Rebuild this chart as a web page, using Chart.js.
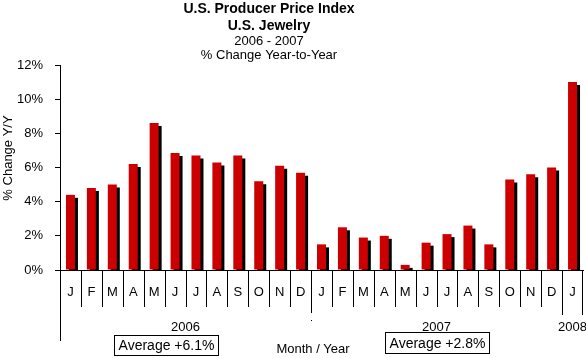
<!DOCTYPE html>
<html>
<head>
<meta charset="utf-8">
<script src="https://cdn.jsdelivr.net/npm/chart.js@4"></script>
<style>
  html, body { margin: 0; padding: 0; background: #fff; }
  #wrap { width: 586px; height: 358px; }
</style>
</head>
<body>
<div id="wrap"><canvas id="chart" width="586" height="358"></canvas></div>
<script>
// data
const months = ["J","F","M","A","M","J","J","A","S","O","N","D",
                "J","F","M","A","M","J","J","A","S","O","N","D",
                "J"];
const pct2006 = [4.4, 4.8, 5.0, 6.2, 8.6, 6.85, 6.7, 6.3, 6.7, 5.2, 6.1, 5.7];
const pct2007 = [1.5, 2.5, 1.9, 2.0, 0.3, 1.6, 2.1, 2.6, 1.5, 5.3, 5.6, 6.0];
const pct2008 = [11.0];
const years = ["2006", "2007", "2008"];
const averages = ["Average +6.1%", "Average +2.8%"];
const yTicks = [0, 2, 4, 6, 8, 10, 12];

const titleLines = ["U.S. Producer Price Index", "U.S. Jewelry"];
const subLines = ["2006 - 2007", "% Change Year-to-Year"];

const FONT = "'Liberation Sans', Arial, sans-serif";

/* ---------------------------------------------------
   drop shadow under the bars
--------------------------------------------------- */
const barShadow = {
  id: "barShadow",
  beforeDatasetDraw(chart) {
    const c = chart.ctx;
    c.save();
    c.shadowColor = "#000";
    c.shadowOffsetX = 3;
    c.shadowOffsetY = 3;
    c.shadowBlur = 0;
  },
  afterDatasetDraw(chart) {
    chart.ctx.restore();
  }
};

/* ---------------------------------------------------
   titles, month separators, years, boxes
--------------------------------------------------- */
const decorations = {
  id: "decorations",
  afterDraw(chart) {
    const c = chart.ctx;
    const xs = chart.scales.x;
    const area = chart.chartArea;
    const half = (xs.getPixelForValue(1) - xs.getPixelForValue(0)) / 2;
    const edge = (i) => Math.round(xs.getPixelForValue(i) - half) + 0.5;

    c.save();
    c.fillStyle = "#000";
    c.textAlign = "center";
    c.textBaseline = "alphabetic";

    // chart title
    c.font = "bold 14px " + FONT;
    c.fillText(titleLines[0], 269, 13);
    c.fillText(titleLines[1], 269, 30);
    c.font = "13px " + FONT;
    c.fillText(subLines[0], 269, 45);
    c.fillText(subLines[1], 269, 59);

    // y axis title
    c.save();
    c.translate(12, 158);
    c.rotate(-Math.PI / 2);
    c.fillText("% Change Y/Y", 0, 0);
    c.restore();

    // separators under the axis
    c.strokeStyle = "#000";
    c.lineWidth = 1;
    for (let i = 0; i <= months.length; i++) {
      let end = 307;
      if (i === 0) end = 341;
      else if (i === 12) end = 313;
      else if (i >= 24) end = 315;
      const x = i === months.length ? Math.round(area.right) - 0.5 : edge(i);
      c.beginPath();
      c.moveTo(x, area.bottom);
      c.lineTo(x, end);
      c.stroke();
    }
    c.fillRect(edge(12) - 0.5, 320, 1, 1);

    // year labels centred under their months
    const spans = [[0, 12], [12, 24], [24, 25]];
    c.font = "13px " + FONT;
    spans.forEach(([a, b], k) => {
      const x = (xs.getPixelForValue(a) + xs.getPixelForValue(b - 1)) / 2;
      c.fillText(years[k], x, 331);
    });

    c.fillText("Month / Year", 313, 352.5);

    // average boxes
    c.font = "14px " + FONT;
    c.textBaseline = "middle";
    const boxes = [[114.5, 335.5, 104, 20], [385.5, 332.5, 104, 21]];
    boxes.forEach(([bx, by, bw, bh], k) => {
      c.strokeRect(bx, by, bw, bh);
      c.fillText(averages[k], bx + bw / 2, by + bh / 2 + 1);
    });
    c.restore();
  }
};

const values = [...pct2006, ...pct2007, ...pct2008];

new Chart(document.getElementById("chart"), {
  type: "bar",
  data: {
    labels: months,
    datasets: [{
      data: values,
      backgroundColor: "#CC0000",
      borderWidth: 0,
      barPercentage: 0.43,
      categoryPercentage: 1,
      clip: 0
    }]
  },
  options: {
    responsive: false,
    animation: false,
    events: [],
    layout: { padding: { top: 65, right: 3, left: 0, bottom: 0 } },
    plugins: {
      legend: { display: false },
      title: { display: false },
      tooltip: { enabled: false }
    },
    scales: {
      x: {
        offset: true,
        grid: { display: false },
        border: { display: true, color: "#000", width: 1 },
        ticks: {
          color: "#000",
          font: { family: FONT, size: 13 },
          padding: 7,
          autoSkip: false,
          maxRotation: 0
        },
        afterFit(scale) { scale.height = 88; }
      },
      y: {
        min: 0,
        max: 12,
        afterBuildTicks(scale) {
          scale.ticks = yTicks.map((v) => ({ value: v }));
        },
        grid: {
          drawOnChartArea: false,
          drawTicks: true,
          tickLength: 5,
          color: "#000"
        },
        border: { display: true, color: "#000", width: 1 },
        ticks: {
          color: "#000",
          font: { family: FONT, size: 13 },
          padding: 12,
          callback: (v) => v + "%"
        },
        afterFit(scale) { scale.width = 60; }
      }
    }
  },
  plugins: [barShadow, decorations]
});
</script>
</body>
</html>
